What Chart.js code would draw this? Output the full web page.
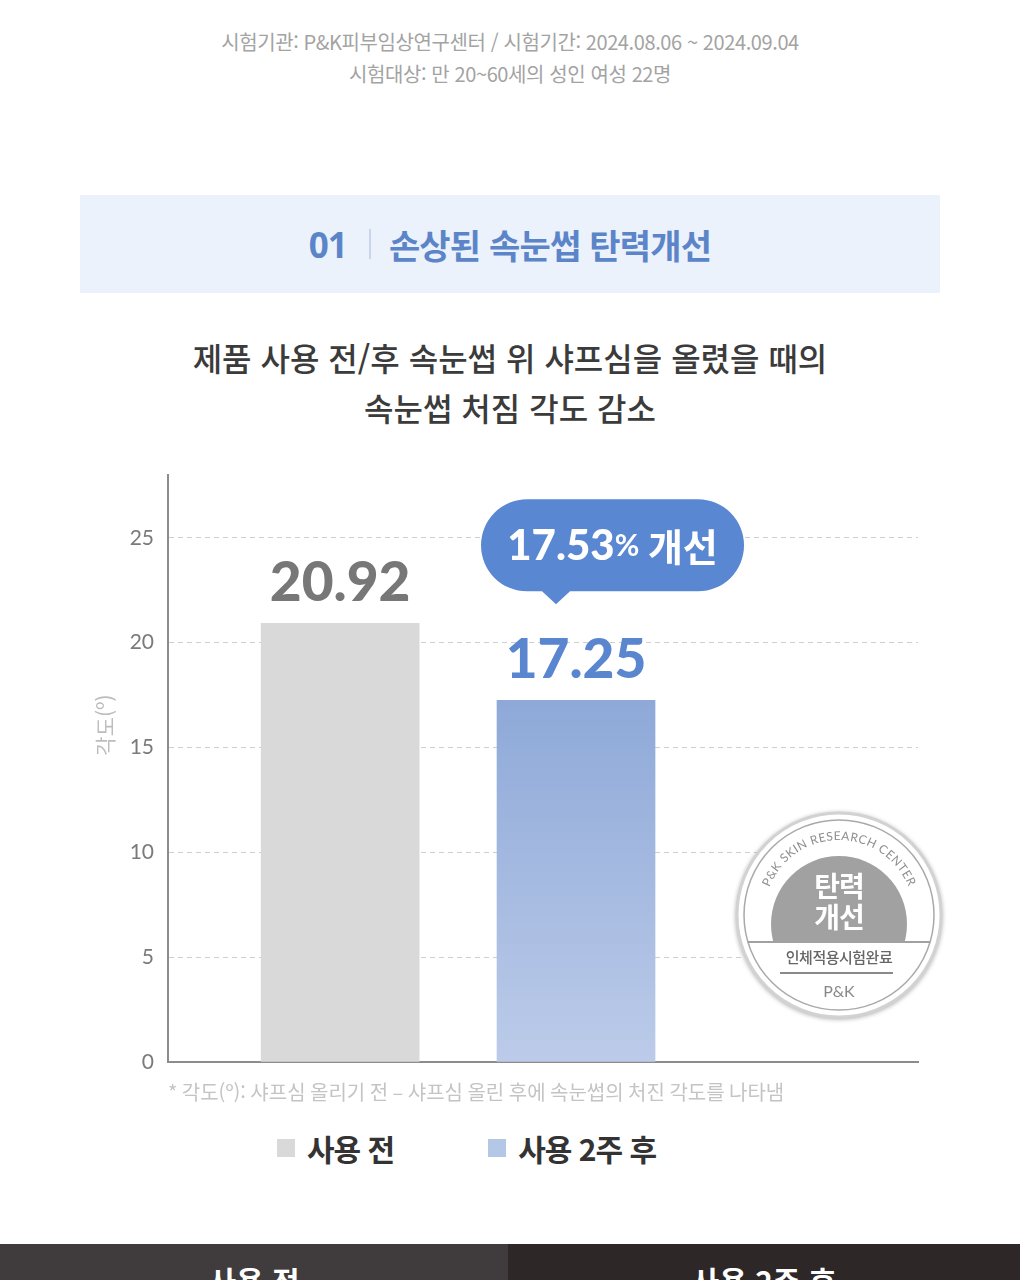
<!DOCTYPE html>
<html lang="ko">
<head>
<meta charset="utf-8">
<script src="https://cdn.jsdelivr.net/npm/chart.js@4.4.1/dist/chart.umd.min.js"></script>
<style>
  html, body { margin: 0; padding: 0; background: #fff; }
  body { width: 1020px; height: 1280px; position: relative; overflow: hidden; font-family: "Noto Sans CJK KR", "Noto Sans", sans-serif; }
  .abs { position: absolute; }
  .info { left: 0; width: 1020px; text-align: center; color: #a3a3a3; font-size: 20px; letter-spacing: -0.4px; }
  .banner { left: 80px; top: 195px; width: 860px; height: 98px; background: #ecf2fb; display: flex; align-items: center; justify-content: center; color: #5b85c8; font-weight: 700; font-size: 34px; letter-spacing: -0.8px; }
  .banner .num { font-family: "Noto Sans", sans-serif; letter-spacing: -1px; font-size: 35px; }
  .banner .sep { width: 2px; height: 30px; background: #c8d6ec; margin: 0 18px 0 22px; }
  .title { left: 0; width: 1020px; text-align: center; color: #3b3b3b; font-size: 32px; font-weight: 500; line-height: 50px; letter-spacing: 0; }
  #wrap { left: 0; top: 460px; width: 1020px; height: 662px; }
  #legend { left: 277px; top: 1126px; height: 44px; display: flex; align-items: center; gap: 94px; }
  #legend .item { display: flex; align-items: center; gap: 12px; color: #333; font-size: 30px; font-weight: 700; letter-spacing: -1px; }
  #legend .box { width: 18px; height: 18px; }
  .foot { top: 1244px; height: 36px; overflow: hidden; color: #fff; font-size: 30px; font-weight: 700; text-align: center; }
  .foot span { display: block; margin-top: 14px; }
</style>
</head>
<body>
<div class="abs info" style="top:27px">시험기관: P&amp;K피부임상연구센터 / 시험기간: 2024.08.06 ~ 2024.09.04</div>
<div class="abs info" style="top:59px">시험대상: 만 20~60세의 성인 여성 22명</div>

<div class="abs banner"><span class="num">01</span><span class="sep"></span><span>손상된 속눈썹 탄력개선</span></div>

<div class="abs title" style="top:332px">제품 사용 전/후 속눈썹 위 샤프심을 올렸을 때의<br>속눈썹 처짐 각도 감소</div>

<div id="wrap" class="abs"><canvas id="chart" width="1020" height="662"></canvas></div>

<svg class="abs" width="220" height="220" viewBox="0 0 220 220" style="left:730px;top:805px;filter:drop-shadow(0 1px 2px rgba(0,0,0,0.3))">
  <defs>
    <clipPath id="cut"><rect x="0" y="0" width="220" height="137"/></clipPath>
    <path id="arc" d="M 34 110 A 75 75 0 0 1 184 110"/>
  </defs>
  <circle cx="109" cy="110" r="102" fill="#fff" stroke="#d2d2d2" stroke-width="3"/>
  <circle cx="109" cy="110" r="95" fill="none" stroke="#a9a9a9" stroke-width="1.5"/>
  <circle cx="109" cy="119" r="68" fill="#a1a1a1" clip-path="url(#cut)"/>
  <line x1="18" y1="137" x2="200" y2="137" stroke="#a1a1a1" stroke-width="2"/>
  <text font-family="Lato, sans-serif" font-size="12" fill="#8e8e8e" letter-spacing="0.5">
    <textPath href="#arc" startOffset="50%" text-anchor="middle">P&amp;K SKIN RESEARCH CENTER</textPath>
  </text>
  <text x="109" y="92" text-anchor="middle" font-size="28" font-weight="700" fill="#fff" letter-spacing="-1">탄력</text>
  <text x="109" y="123" text-anchor="middle" font-size="28" font-weight="700" fill="#fff" letter-spacing="-1">개선</text>
  <text x="109" y="158" text-anchor="middle" font-size="15" font-weight="500" fill="#666" letter-spacing="-0.5">인체적용시험완료</text>
  <line x1="50" y1="168" x2="163" y2="168" stroke="#8a8a8a" stroke-width="2"/>
  <text x="109" y="192" text-anchor="middle" font-family="Lato, sans-serif" font-size="16" fill="#888">P&amp;K</text>
</svg>

<div id="legend" class="abs"></div>

<div class="abs foot" style="left:0;width:508px;background:#403c3d"><span>사용 전</span></div>
<div class="abs foot" style="left:508px;width:512px;background:#2d2728"><span>사용 2주 후</span></div>

<script>
// data
const categories = ['사용 전', '사용 2주 후'];
const angleValues = [20.92, 17.25];
const improvementPct = 17.53;
const yTicks = [0, 5, 10, 15, 20, 25];
const yTitle = '각도(º)';
const footnote = '* 각도(º): 샤프심 올리기 전 – 샤프심 올린 후에 속눈썹의 처진 각도를 나타냄';

// styles
const legendColors = ['#d9d9d9', '#b5c7e7'];
const labelColors = ['#777777', '#5a85cf'];
const bubbleColor = '#5a87d1';
const krFont = '"Noto Sans CJK KR", sans-serif';
const numFont = 'Lato, "Noto Sans", sans-serif';

const blueGradient = (ctx) => {
  const chart = ctx.chart;
  const area = chart.chartArea;
  if (!area || !ctx.parsed) return '#a5bbe0';
  const top = chart.scales.y.getPixelForValue(ctx.parsed.y);
  const g = chart.ctx.createLinearGradient(0, top, 0, area.bottom);
  g.addColorStop(0, '#8ea9d8');
  g.addColorStop(1, '#bccbe9');
  return g;
};

const barFills = ['#d9d9d9', blueGradient];

const datasets = categories.map((name, i) => ({
  label: name,
  data: [{ x: i, y: angleValues[i] }],
  backgroundColor: barFills[i],
  borderWidth: 0,
  barThickness: 158,
  grouped: false,
}));

// y title sits above the middle of the axis in the original, so it is drawn here
const yAxisTitle = {
  id: 'yAxisTitle',
  afterDraw(chart) {
    const { ctx, chartArea } = chart;
    ctx.save();
    ctx.translate(105, chartArea.top + 250);
    ctx.rotate(-Math.PI / 2);
    ctx.font = '21px ' + krFont;
    ctx.fillStyle = '#bdbdbd';
    ctx.textAlign = 'center';
    ctx.textBaseline = 'middle';
    ctx.fillText(yTitle, 0, 0);
    ctx.restore();
  }
};

// value labels over the bars + speech bubble on the second bar
const valueLabels = {
  id: 'valueLabels',
  afterDatasetsDraw(chart) {
    const { ctx } = chart;
    ctx.save();
    chart.data.datasets.forEach((ds, i) => {
      const bar = chart.getDatasetMeta(i).data[0];
      if (!bar) return;
      ctx.font = '900 55px ' + numFont;
      ctx.fillStyle = labelColors[i];
      ctx.textAlign = 'center';
      ctx.textBaseline = 'middle';
      ctx.fillText(angleValues[i].toFixed(2), bar.x, bar.y - 40);
    });

    const bar = chart.getDatasetMeta(1).data[0];
    if (bar) {
      const bx = bar.x, by = bar.y;
      const left = bx - 95, right = bx + 168;
      const bottom = by - 109, top = by - 201;
      const r = (bottom - top) / 2;
      ctx.fillStyle = bubbleColor;
      ctx.beginPath();
      ctx.moveTo(left + r, top);
      ctx.lineTo(right - r, top);
      ctx.arc(right - r, top + r, r, -Math.PI / 2, Math.PI / 2);
      ctx.lineTo(bx - 6, bottom);
      ctx.lineTo(bx - 20, by - 96);
      ctx.lineTo(bx - 34, bottom);
      ctx.lineTo(left + r, bottom);
      ctx.arc(left + r, top + r, r, Math.PI / 2, Math.PI * 1.5);
      ctx.closePath();
      ctx.fill();

      const parts = [
        { t: improvementPct.toFixed(2), f: '900 42px ' + numFont },
        { t: '%', f: '700 30px ' + numFont },
        { t: ' 개선', f: '700 38px ' + krFont },
      ];
      let total = 0;
      parts.forEach(p => { ctx.font = p.f; p.w = ctx.measureText(p.t).width; total += p.w; });
      let x = (left + right) / 2 - total / 2;
      const cy = (top + bottom) / 2 + 1;
      ctx.fillStyle = '#fff';
      ctx.textAlign = 'left';
      ctx.textBaseline = 'middle';
      parts.forEach(p => { ctx.font = p.f; ctx.fillText(p.t, x, cy); x += p.w; });
    }
    ctx.restore();
  }
};

const chart = new Chart(document.getElementById('chart'), {
  type: 'bar',
  data: { datasets },
  options: {
    responsive: false,
    animation: false,
    layout: { padding: { top: 15, right: 102, left: 0, bottom: 0 } },
    plugins: {
      legend: { display: false },
      tooltip: { enabled: false },
    },
    scales: {
      x: {
        type: 'linear',
        offset: false,
        min: -0.73,
        max: 2.45,
        ticks: { display: false },
        grid: { display: false, drawTicks: false },
        border: { display: true, color: '#8c8c8c', width: 2 },
        title: {
          display: true,
          text: footnote,
          align: 'start',
          color: '#c4c4c4',
          font: { family: krFont, size: 20 },
          padding: { top: 0, bottom: 18 },
        },
        afterFit: (s) => { s.height = 60; },
      },
      y: {
        min: 0,
        max: 28,
        afterBuildTicks: (s) => { s.ticks = yTicks.map(v => ({ value: v })); },
        afterFit: (s) => { s.width = 168; s.paddingTop = 0; s.paddingBottom = 0; },
        ticks: { padding: 14, color: '#7a7a7a', font: { family: numFont, size: 21 } },
        grid: {
          drawTicks: false,
          color: (c) => (c.tick && c.tick.value === 0 ? 'rgba(0,0,0,0)' : '#d0d0d0'),
          lineWidth: 1,
        },
        border: { display: true, color: '#8c8c8c', width: 2, dash: [5, 4] },
        title: { display: false },
      },
    },
  },
  plugins: [valueLabels, yAxisTitle],
});

// legend built from the chart's datasets
const legendEl = document.getElementById('legend');
chart.data.datasets.forEach((ds, i) => {
  const item = document.createElement('div');
  item.className = 'item';
  const box = document.createElement('span');
  box.className = 'box';
  box.style.background = legendColors[i];
  const txt = document.createElement('span');
  txt.textContent = ds.label;
  item.appendChild(box);
  item.appendChild(txt);
  legendEl.appendChild(item);
});
</script>
</body>
</html>
